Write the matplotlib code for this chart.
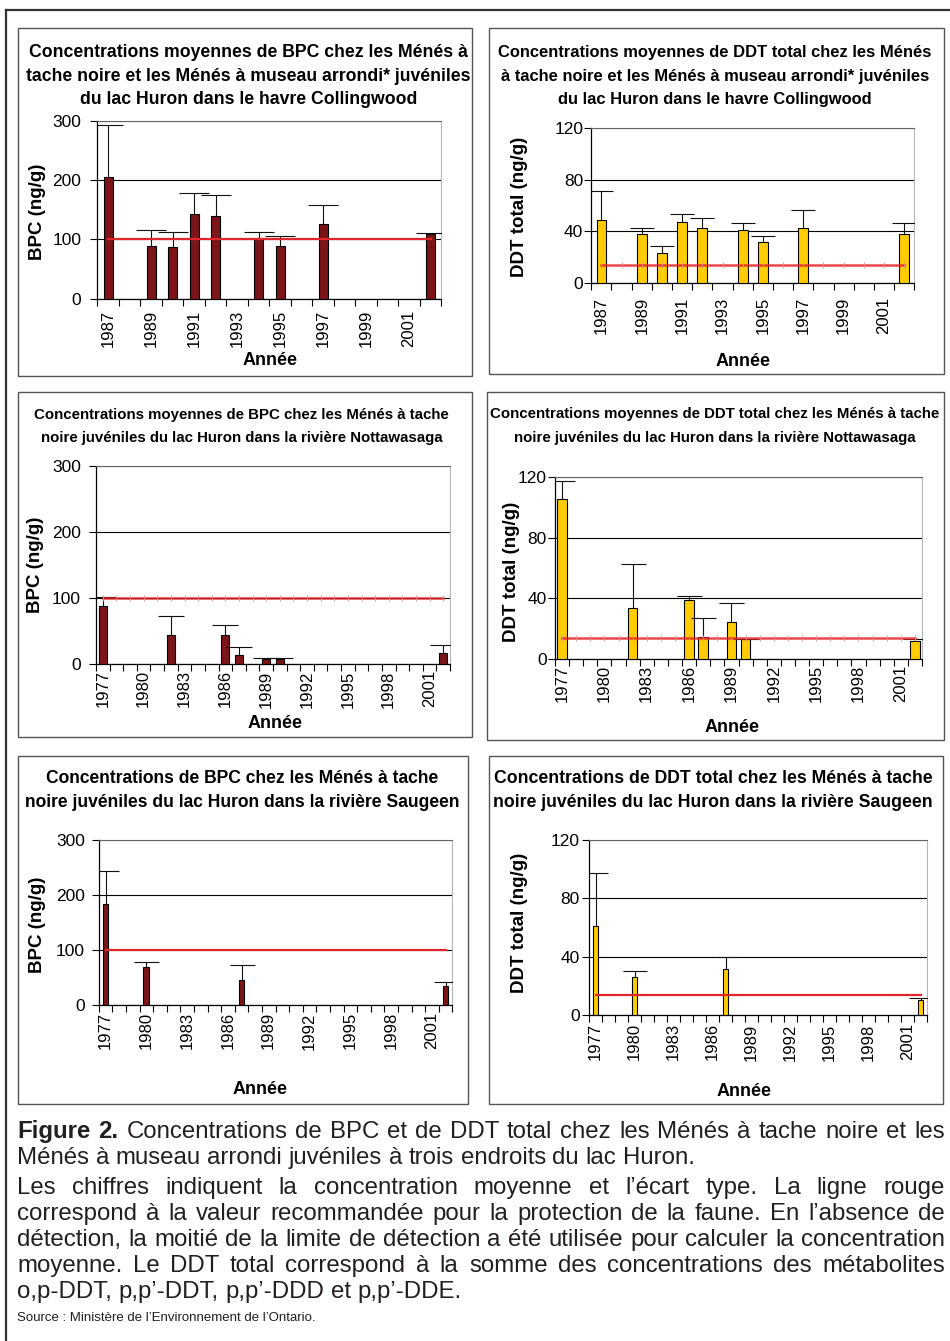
import matplotlib
matplotlib.use("Agg")
import matplotlib.pyplot as plt
from matplotlib.patches import Rectangle
from matplotlib.lines import Line2D
import numpy as np

# categories on the x axes
coll_cats = [1987, 1988, 1989, 1990, 1991, 1992, 1993, 1994, 1995, 1996, 1997, 1998, 1999, 2000, 2001, 2002]
river_cats = [1977, 1978, 1979, 1980, 1981, 1982, 1983, 1984, 1985, 1986, 1987, 1988, 1989,
              1990, 1991, 1992, 1993, 1994, 1995, 1996, 1997, 1998, 1999, 2000, 2001, 2002]

# Collingwood harbour
coll_years = [1987, 1989, 1990, 1991, 1992, 1994, 1995, 1997, 2002]
coll_bpc = [205, 89, 87, 142, 139, 102, 89, 126, 109]
coll_bpc_sd = [88, 27, 25, 36, 36, 10, 17, 32, 1]
coll_ddt = [48.7, 37.6, 22.8, 46.9, 42.2, 40.7, 31.9, 42.2, 37.6]
coll_ddt_sd = [22.6, 4.6, 6.0, 6.2, 7.8, 6.0, 4.4, 14.0, 9.1]

# Nottawasaga river
nott_years = [1977, 1982, 1986, 1987, 1989, 1990, 2002]
nott_bpc = [88, 44, 44, 14, 8.6, 8.6, 17]
nott_bpc_sd = [14, 29, 15, 12, 0.5, 0.5, 12]
nott_ddt = [105.7, 33.7, 38.8, 14.3, 24.7, 13.0, 11.9]
nott_ddt_sd = [11.7, 29.3, 2.6, 13.0, 12.5, 0.0, 1.1]

# Saugeen river
saug_years = [1977, 1980, 1987, 2002]
saug_bpc = [183, 70, 46, 35]
saug_bpc_sd = [60, 8, 28, 7]
saug_ddt = [61.4, 26.5, 31.9, 10.7]
saug_ddt_sd = [35.8, 4.1, 8.0, 1.2]

bpc_guideline = 100
ddt_guideline = 14

titles = [
    ["Concentrations moyennes de BPC chez les Ménés à",
     "tache noire et les Ménés à museau arrondi* juvéniles",
     "du lac Huron dans le havre Collingwood"],
    ["Concentrations moyennes de DDT total chez les Ménés",
     "à tache noire et les Ménés à museau arrondi* juvéniles",
     "du lac Huron dans le havre Collingwood"],
    ["Concentrations moyennes de BPC chez les Ménés à tache",
     "noire juvéniles du lac Huron dans la rivière Nottawasaga"],
    ["Concentrations moyennes de DDT total chez les Ménés à tache",
     "noire juvéniles du lac Huron dans la rivière Nottawasaga"],
    ["Concentrations de BPC chez les Ménés à tache",
     "noire juvéniles du lac Huron dans la rivière Saugeen"],
    ["Concentrations de DDT total chez les Ménés à tache",
     "noire juvéniles du lac Huron dans la rivière Saugeen"],
]

caption_lines = [
    "Figure 2. Concentrations de BPC et de DDT total chez les Ménés à tache noire et les",
    "Ménés à museau arrondi juvéniles à trois endroits du lac Huron.",
    "Les chiffres indiquent la concentration moyenne et l’écart type. La ligne rouge",
    "correspond à la valeur recommandée pour la protection de la faune. En l’absence de",
    "détection, la moitié de la limite de détection a été utilisée pour calculer la concentration",
    "moyenne. Le DDT total correspond à la somme des concentrations des métabolites",
    "o,p-DDT, p,p’-DDT, p,p’-DDD et p,p’-DDE.",
]
caption_justify = [True, False, True, True, True, True, False]
source_text = "Source : Ministère de l’Environnement de l’Ontario."

BPC_COLOR = "#7b1518"
DDT_COLOR = "#ffcc00"
RED = "#e3262b"

plt.rcParams['font.family'] = ['Liberation Sans', 'DejaVu Sans']

W, H = 950, 1341
fig = plt.figure(figsize=(W / 100, H / 100), dpi=100)
renderer = fig.canvas.get_renderer()


def fx(px):
    return px / W


def fy(py):
    return 1 - py / H


def text_width(s, size, weight="normal"):
    t = fig.text(0, 0, s, fontsize=size, fontweight=weight)
    w = t.get_window_extent(renderer).width
    t.remove()
    return w


def box(l, t, r, b, color="#555555", lw=1.0):
    fig.add_artist(Rectangle((fx(l), fy(b)), (r - l) / W, (b - t) / H, transform=fig.transFigure,
                             fill=False, edgecolor=color, linewidth=lw))


panels = [
    dict(cats=coll_cats, years=coll_years, vals=coll_bpc, sd=coll_bpc_sd, color=BPC_COLOR,
         guide=bpc_guideline, marks=False, ymax=300, yticks=[0, 100, 200, 300], step=2,
         axes=(97.3, 120.7, 441.3, 298.7), width=0.42, cap=10.5, xpad=8, ypad=6.5,
         ylabel="BPC (ng/g)", ylab_xy=(38, 212), xlab_xy=(270, 361),
         title_y=[56.7, 81, 104.3], title_x=248.5, title_w=443, box=(18, 28, 472, 376)),
    dict(cats=coll_cats, years=coll_years, vals=coll_ddt, sd=coll_ddt_sd, color=DDT_COLOR,
         guide=ddt_guideline, marks=True, ymax=120, yticks=[0, 40, 80, 120], step=2,
         axes=(591.3, 128.3, 914.3, 282.7), width=0.48, cap=8.4, xpad=10, ypad=0.8,
         ylabel="DDT total (ng/g)", ylab_xy=(519, 207), xlab_xy=(743, 362),
         title_y=[56.7, 81, 104.3], title_x=715, title_w=434, box=(489, 28, 944, 374)),
    dict(cats=river_cats, years=nott_years, vals=nott_bpc, sd=nott_bpc_sd, color=BPC_COLOR,
         guide=bpc_guideline, marks=True, ymax=300, yticks=[0, 100, 200, 300], step=3,
         axes=(96, 466, 450, 664.3), width=0.6, cap=9.6, xpad=4.3, ypad=5.8,
         ylabel="BPC (ng/g)", ylab_xy=(35, 565), xlab_xy=(275, 723),
         title_y=[419, 442], title_x=241.5, title_w=417, box=(18, 392, 472, 737)),
    dict(cats=river_cats, years=nott_years, vals=nott_ddt, sd=nott_ddt_sd, color=DDT_COLOR,
         guide=ddt_guideline, marks=True, ymax=120, yticks=[0, 40, 80, 120], step=3,
         axes=(555, 477.3, 922, 659), width=0.68, cap=9, xpad=4.3, ypad=0.8,
         ylabel="DDT total (ng/g)", ylab_xy=(512, 572), xlab_xy=(732, 727),
         title_y=[418, 442], title_x=714.5, title_w=451, box=(487, 392, 944, 740)),
    dict(cats=river_cats, years=saug_years, vals=saug_bpc, sd=saug_bpc_sd, color=BPC_COLOR,
         guide=bpc_guideline, marks=False, ymax=300, yticks=[0, 100, 200, 300], step=3,
         axes=(98.7, 840, 452.3, 1005.3), width=0.42, cap=9, xpad=5, ypad=5,
         ylabel="BPC (ng/g)", ylab_xy=(38, 925), xlab_xy=(260, 1090),
         title_y=[783, 807], title_x=242.5, title_w=437, box=(18, 756, 468, 1104)),
    dict(cats=river_cats, years=saug_years, vals=saug_ddt, sd=saug_ddt_sd, color=DDT_COLOR,
         guide=ddt_guideline, marks=False, ymax=120, yticks=[0, 40, 80, 120], step=3,
         axes=(589, 840, 927, 1015.3), width=0.45, cap=8.6, xpad=5.8, ypad=1.5,
         ylabel="DDT total (ng/g)", ylab_xy=(519, 923), xlab_xy=(744, 1092),
         title_y=[783, 807], title_x=713, title_w=438, box=(489, 756, 943, 1104)),
]

for p, title in zip(panels, titles):
    box(*p["box"])
    l, t, r, b = p["axes"]
    ax = fig.add_axes([fx(l), fy(b), (r - l) / W, (b - t) / H])
    cats = p["cats"]
    n = len(cats)
    idx = [cats.index(y) for y in p["years"]]

    ax.bar(idx, p["vals"], width=p["width"], color=p["color"], edgecolor="black", linewidth=0.8, zorder=3)
    eb = ax.errorbar(idx, p["vals"], yerr=[np.zeros(len(idx)), p["sd"]], fmt="none", ecolor="#111111",
                     elinewidth=0.8, capsize=p["cap"], capthick=0.8, zorder=4)
    eb[1][0].set_visible(False)  # only the upper cap

    if p["marks"]:
        ax.plot(range(n), [p["guide"]] * n, color=RED, lw=1.8, alpha=0.85, marker="|",
                markersize=4, markeredgewidth=0.7, markeredgecolor="#f28a8a", zorder=5)
    else:
        ax.plot([0, n - 1], [p["guide"], p["guide"]], color=RED, lw=1.6, zorder=5)

    ax.set_xlim(-0.5, n - 0.5)
    ax.set_ylim(0, p["ymax"])
    ax.set_yticks(p["yticks"])
    ax.yaxis.grid(True, color="black", linewidth=0.8)
    ax.set_axisbelow(True)

    ax.set_xticks(np.arange(n + 1) - 0.5)
    ax.set_xticklabels([])
    lab = list(range(0, n, p["step"]))
    ax.set_xticks(lab, [str(cats[i]) for i in lab], minor=True, rotation=90, fontsize=12)
    ax.tick_params(axis="x", which="major", length=5, width=0.8, direction="out")
    ax.tick_params(axis="x", which="minor", length=0, pad=p["xpad"])
    ax.tick_params(axis="y", length=5, width=0.8, pad=p["ypad"], labelsize=12.5)

    for side in ["left", "bottom"]:
        ax.spines[side].set_color("black")
        ax.spines[side].set_linewidth(0.9)
    ax.spines["top"].set_color("#666666")
    ax.spines["top"].set_linewidth(0.8)
    ax.spines["right"].set_color("#b5b5b5")
    ax.spines["right"].set_linewidth(0.8)

    fig.text(fx(p["ylab_xy"][0]), fy(p["ylab_xy"][1]), p["ylabel"], rotation=90, ha="center",
             va="center", fontsize=13.5, fontweight="bold")
    fig.text(fx(p["xlab_xy"][0]), fy(p["xlab_xy"][1]), "Année", ha="center", va="center",
             fontsize=13, fontweight="bold")

    widest = max(text_width(s, 10, "bold") for s in title)
    size = 10 * p["title_w"] / widest
    for s, yb in zip(title, p["title_y"]):
        fig.text(fx(p["title_x"]), fy(yb), s, ha="center", va="baseline", fontsize=size, fontweight="bold")

# outer frame (open at right and bottom)
fig.add_artist(Line2D([fx(6), fx(6)], [fy(10), fy(H)], transform=fig.transFigure, color="#333333", lw=1.6))
fig.add_artist(Line2D([fx(6), 1], [fy(10), fy(10)], transform=fig.transFigure, color="#333333", lw=1.6))

# caption, justified like the original
x0, x1 = 17, 945
cap_size = 10 * 926 / text_width(caption_lines[4], 10)
cap_base = [1138, 1164, 1194, 1220, 1246, 1272, 1298]
space = text_width("a a", cap_size) - text_width("aa", cap_size)
for i, (line, just, yb) in enumerate(zip(caption_lines, caption_justify, cap_base)):
    words = line.split(" ")
    bold = [i == 0 and k < 2 for k in range(len(words))]
    ws = [text_width(w, cap_size, "bold" if bd else "normal") for w, bd in zip(words, bold)]
    gap = (x1 - x0 - sum(ws)) / (len(words) - 1) if just else space
    x = x0
    for w, bd, wd in zip(words, bold, ws):
        fig.text(fx(x), fy(yb), w, fontsize=cap_size, fontweight="bold" if bd else "normal",
                 va="baseline", ha="left", color="#231f20")
        x += wd + gap

src_size = 10 * 300 / text_width(source_text, 10)
fig.text(fx(x0), fy(1321), source_text, fontsize=src_size, va="baseline", ha="left", color="#231f20")

fig.savefig("out.png", dpi=100)
